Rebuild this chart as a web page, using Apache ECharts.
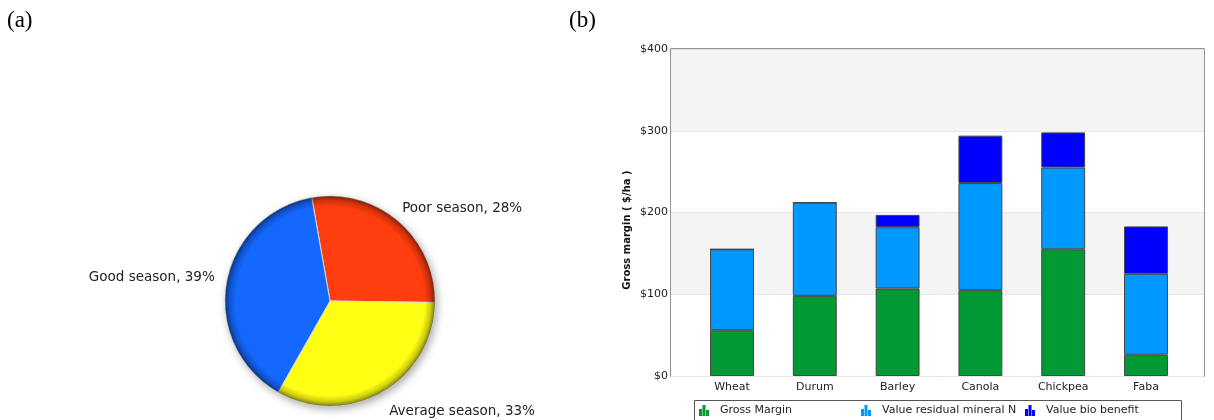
<!DOCTYPE html>
<html>
<head>
<meta charset="utf-8">
<title>Season outcomes and crop gross margins</title>
<script src="https://cdn.jsdelivr.net/npm/echarts@6/dist/echarts.min.js"></script>
<style>
  html, body { margin: 0; padding: 0; background: #ffffff; }
  #chart { width: 1214px; height: 420px; }
</style>
</head>
<body>
<div id="chart"></div>
<script>
// (a) season outcome shares
const seasonNames = ['Poor season', 'Average season', 'Good season'];
const seasonShares = [28, 33, 39];
const seasonColors = ['#FF3D0E', '#FFFF14', '#1467FF'];

// (b) gross margin by crop ($/ha), stacked components
const crops = ['Wheat', 'Durum', 'Barley', 'Canola', 'Chickpea', 'Faba'];
const grossMargin = [56, 98, 107, 105, 155, 26];
const residualN = [99, 114, 75, 131, 100, 99];
const bioBenefit = [0, 0, 15, 58, 43, 58];
const seriesNames = ['Gross Margin', 'Value residual mineral N', 'Value bio benefit'];
const seriesColors = ['#009933', '#0099FF', '#0000FF'];
const yTicks = [0, 100, 200, 300, 400];

const FONT = '"DejaVu Sans", Verdana, sans-serif';
const barIcon = 'path://M0,4h3v7h-3z M3.5,0h3v11h-3z M7,5h3v6h-3z';

// small nudges for the pie labels (poor, average, good)
const pieLabelNudge = [[-5, -2], [0, 7], [2, -3]];
// legend slot offsets inside the legend box
const legendSlots = [699, 861, 1025];

const chart = echarts.init(document.getElementById('chart'), null, { renderer: 'canvas' });

const pieCenter = [330, 301];
const pieRadius = 105;

const option = {
  backgroundColor: '#ffffff',
  animation: false,
  graphic: [
    { type: 'text', left: 7, top: 9, style: { text: '(a)', font: '23px "Liberation Serif", "Times New Roman", serif', fill: '#000' } },
    { type: 'text', left: 569, top: 9, style: { text: '(b)', font: '23px "Liberation Serif", "Times New Roman", serif', fill: '#000' } },
    {
      type: 'text', x: 627, y: 230, rotation: Math.PI / 2,
      style: { text: 'Gross margin ( $/ha )', font: 'bold 10px ' + FONT, fill: '#111', align: 'center', verticalAlign: 'middle' }
    },
    // legend frame
    {
      type: 'rect', shape: { x: 694.5, y: 400.5, width: 487, height: 30 },
      style: { fill: 'none', stroke: '#555', lineWidth: 1 }, silent: true
    }
  ],
  legend: seriesNames.map((n, i) => ({
    left: legendSlots[i], top: 405,
    padding: 0,
    itemWidth: 10, itemHeight: 11,
    itemStyle: { borderWidth: 0 },
    data: [{ name: n, icon: barIcon }],
    textStyle: { fontFamily: FONT, fontSize: 11, color: '#222', padding: [0, 0, 0, 6] },
    selectedMode: false
  })),
  grid: [
    { left: 671, right: 10, top: 49, bottom: 44, show: true, borderColor: '#707070', borderWidth: 1.5, backgroundColor: 'transparent' },
    { left: 690.6, right: 26.6, top: 49, bottom: 44 }
  ],
  xAxis: [
    { type: 'category', gridIndex: 0, data: crops, show: false },
    {
      type: 'category', gridIndex: 1, data: crops,
      axisLine: { show: false }, axisTick: { show: false },
      axisLabel: { fontFamily: FONT, fontSize: 11, color: '#222', margin: 6 }
    }
  ],
  yAxis: [
    {
      type: 'value', gridIndex: 0, min: yTicks[0], max: yTicks[yTicks.length - 1], interval: 100,
      axisLine: { show: false }, axisTick: { show: false },
      axisLabel: { formatter: v => '$' + v, fontFamily: FONT, fontSize: 11, color: '#222', margin: 3 },
      splitLine: { show: true, lineStyle: { color: '#e6e6e6', width: 1 } },
      splitArea: { show: true, areaStyle: { color: ['#ffffff', '#f4f4f4'] } }
    },
    { type: 'value', gridIndex: 1, min: yTicks[0], max: yTicks[yTicks.length - 1], interval: 100, show: false, splitLine: { show: false } }
  ],
  series: [
    // soft drop shadow under the pie
    {
      type: 'pie', silent: true, center: pieCenter, radius: pieRadius, z: 1,
      label: { show: false }, labelLine: { show: false },
      itemStyle: { color: '#ffffff', shadowBlur: 8, shadowOffsetX: 2, shadowOffsetY: 3, shadowColor: 'rgba(0,0,0,0.35)' },
      data: [{ value: 1 }]
    },
    {
      type: 'pie', center: pieCenter, radius: pieRadius, z: 2,
      startAngle: 100, clockwise: true, avoidLabelOverlap: false,
      itemStyle: { borderColor: '#d8d8d8', borderWidth: 1 },
      label: {
        show: true, position: 'outside', formatter: '{b}, {c}%',
        fontFamily: FONT, fontSize: 13.5, color: '#222', distanceToLabelLine: 0
      },
      labelLine: { show: false, length: 14, length2: 0 },
      labelLayout: p => ({ dx: pieLabelNudge[p.dataIndex][0], dy: pieLabelNudge[p.dataIndex][1] }),
      data: seasonNames.map((n, i) => ({ name: n, value: seasonShares[i], itemStyle: { color: seasonColors[i] } }))
    },
    // rim shading for the bevelled look
    {
      type: 'pie', silent: true, center: pieCenter, radius: pieRadius, z: 3,
      label: { show: false }, labelLine: { show: false },
      itemStyle: {
        color: {
          type: 'radial', x: 0.5, y: 0.5, r: 0.5,
          colorStops: [
            { offset: 0, color: 'rgba(0,0,0,0)' },
            { offset: 0.9, color: 'rgba(0,0,0,0)' },
            { offset: 0.96, color: 'rgba(0,0,0,0.2)' },
            { offset: 1, color: 'rgba(0,0,0,0.5)' }
          ]
        }
      },
      data: [{ value: 1 }]
    },
    ...[grossMargin, residualN, bioBenefit].map((vals, i) => ({
      type: 'bar', name: seriesNames[i], stack: 'total',
      xAxisIndex: 1, yAxisIndex: 1, barWidth: '53%',
      itemStyle: { color: seriesColors[i], borderColor: '#454545', borderWidth: 1 },
      data: vals
    }))
  ]
};

chart.setOption(option);
</script>
</body>
</html>
